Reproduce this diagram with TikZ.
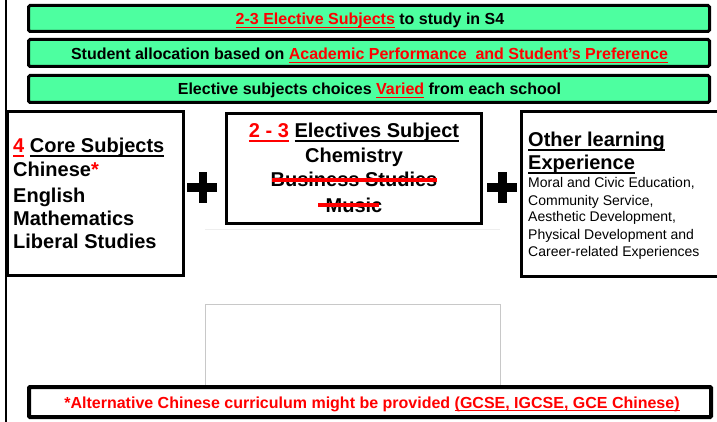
\documentclass[tikz,border=0pt]{standalone}
\usepackage{fontspec}
\setmainfont{Liberation Sans}
\definecolor{mint}{HTML}{4DFFA0}
\definecolor{faint}{HTML}{EEEEEE}
\definecolor{lgray}{HTML}{C8C8C8}
\newcommand\myul[1]{\begingroup\setbox0\hbox{#1}\rlap{\rule[-0.2em]{\wd0}{0.09em}}\box0\endgroup}
\begin{document}
\begin{tikzpicture}[x=1pt,y=-1pt,
  greenbox/.style={draw=black,line width=3pt,fill=mint,rounded corners=1.5pt,inner sep=0pt},
  subjbox/.style={draw=black,line width=3pt,fill=white,inner sep=0pt},
  notebox/.style={draw=black,line width=4pt,fill=white,rounded corners=1pt,inner sep=0pt},
  txt/.style={inner sep=0pt,anchor=base},
  ltxt/.style={inner sep=0pt,anchor=base west},
  hd/.style={font=\fontsize{20}{24}\selectfont\bfseries},
  gt/.style={font=\fontsize{16}{19}\selectfont\bfseries},
  sm/.style={font=\fontsize{14}{17}\selectfont},
  strike/.style={draw=red,line width=4pt},
  plusbar/.style={fill=black},
  frame/.style={draw=lgray,line width=0.8pt}]
\useasboundingbox (0,0) rectangle (717,422);
% left rule
\coordinate (lt) at (6,0);
\coordinate (lb) at (6,422);
\draw[line width=1.5pt] (lt) -- (lb);
% faint frame
\coordinate (fa) at (205,229);
\coordinate (fb) at (500,229);
\draw[draw=faint,line width=0.8pt] (fa) -- (fb);
\coordinate (f1) at (205,385);
\coordinate (f2) at (205,304);
\coordinate (f3) at (500,304);
\coordinate (f4) at (500,385);
\draw[frame] (f1) -- (f2) -- (f3) -- (f4);
% green boxes
\node[greenbox,minimum width=681pt,minimum height=26pt] (g1) at (369,18.5) {};
\node[greenbox,minimum width=681pt,minimum height=27pt] (g2) at (369,53) {};
\node[greenbox,minimum width=681pt,minimum height=27pt] (g3) at (369,89) {};
\node[txt,gt] (t1) at (370,25) {\textcolor{red}{\myul{2-3 Elective Subjects}} to study in S4};
\node[txt,gt] (t2) at (369.5,60) {Student allocation based on \textcolor{red}{\myul{Academic Performance\ \ and Student’s Preference}}};
\node[txt,gt] (t3) at (369.5,95) {Elective subjects choices \textcolor{red}{\myul{Varied}} from each school};
% subject boxes
\node[subjbox,minimum width=176pt,minimum height=164pt] (core) at (95.5,193.5) {};
\node[subjbox,minimum width=255pt,minimum height=110pt] (elec) at (354,168.5) {};
\node[subjbox,minimum width=208.5pt,minimum height=165pt] (other) at (625.75,194) {};
% core text
\node[ltxt,hd] (c0) at (13,153) {\textcolor{red}{\myul{4}} \myul{Core Subjects}};
\node[ltxt,hd] (c1) at (13,177) {Chinese\textcolor{red}{*}};
\node[ltxt,hd] (c2) at (13,202) {English};
\node[ltxt,hd] (c3) at (13,225) {Mathematics};
\node[ltxt,hd] (c4) at (13,248) {Liberal Studies};
% elective text
\node[txt,hd] (e0) at (354,138) {\textcolor{red}{\myul{2 - 3}} \myul{Electives Subject}};
\node[txt,hd] (e1) at (354,163) {Chemistry};
\node[txt,hd] (e2) at (354,187) {Business Studies};
\node[txt,hd] (e3) at (354,212) {Music};
\draw[strike] ([yshift=7pt,xshift=2pt]e2.base west) -- ([yshift=7pt,xshift=-1pt]e2.base east);
\draw[strike] ([yshift=7pt,xshift=-7pt]e3.base west) -- ([yshift=7pt,xshift=-4pt]e3.base east);
% other text
\node[ltxt,hd] (o0) at (528,147) {\myul{Other learning}};
\node[ltxt,hd] (o1) at (528,170) {\myul{Experience}};
\node[ltxt,sm] (o2) at (528,188) {Moral and Civic Education,};
\node[ltxt,sm] (o3) at (528,205) {Community Service,};
\node[ltxt,sm] (o4) at (528,222) {Aesthetic Development,};
\node[ltxt,sm] (o5) at (528,239) {Physical Development and};
\node[ltxt,sm] (o6) at (528,256) {Career-related Experiences};
% plus signs
\fill[plusbar] (198.5,172) rectangle (207,203);
\fill[plusbar] (187,183.5) rectangle (217,192.5);
\fill[plusbar] (498,172) rectangle (506.5,203);
\fill[plusbar] (487,183.5) rectangle (517,192.5);
% note box
\node[notebox,minimum width=682pt,minimum height=30pt] (note) at (370,402) {};
\node[txt,gt,text=red] (nt) at (372,408) {*Alternative Chinese curriculum might be provided \myul{(GCSE, IGCSE, GCE Chinese)}};
\end{tikzpicture}
\end{document}
